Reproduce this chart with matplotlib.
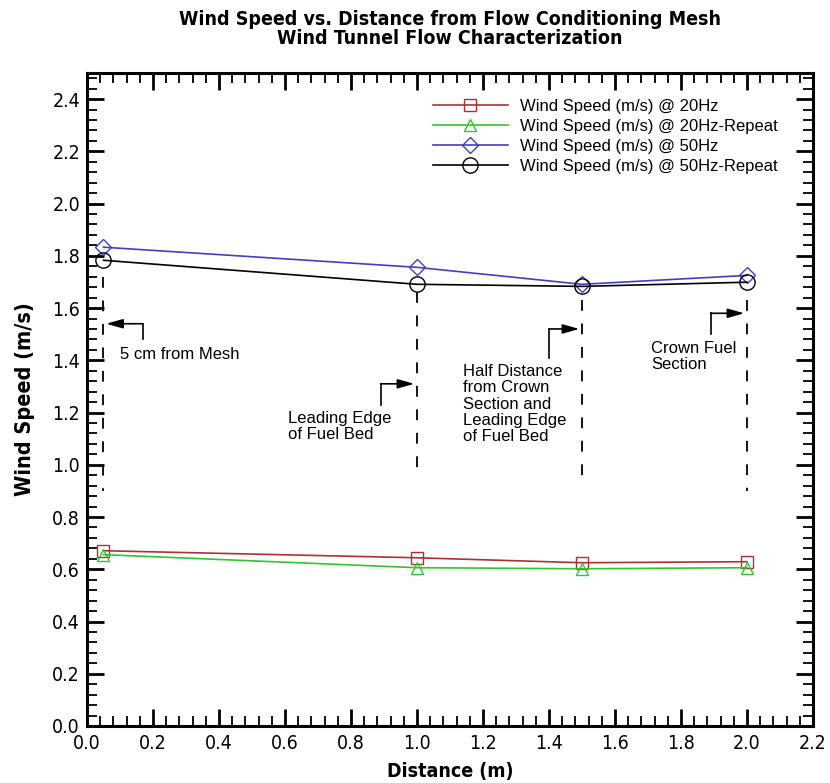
import matplotlib
matplotlib.use("Agg")
import matplotlib.pyplot as plt
from matplotlib.ticker import MultipleLocator, FormatStrFormatter
from matplotlib import font_manager

# ---------------- data ----------------
distance = [0.05, 1.0, 1.5, 2.0]
ws_20hz = [0.671, 0.644, 0.625, 0.629]
ws_20hz_rep = [0.656, 0.606, 0.602, 0.606]
ws_50hz = [1.833, 1.756, 1.691, 1.725]
ws_50hz_rep = [1.783, 1.691, 1.683, 1.699]

series_labels = ["Wind Speed (m/s) @ 20Hz", "Wind Speed (m/s) @ 20Hz-Repeat",
                 "Wind Speed (m/s) @ 50Hz", "Wind Speed (m/s) @ 50Hz-Repeat"]

# annotation marker lines (x, y_top, y_bottom)
ann_x = [0.05, 1.0, 1.5, 2.0]
ann_top = [1.72, 1.66, 1.63, 1.63]
ann_bottom = [0.90, 0.96, 0.92, 0.90]
ann_texts = ["5 cm from Mesh", "Leading Edge\nof Fuel Bed",
             "Half Distance\nfrom Crown\nSection and\nLeading Edge\nof Fuel Bed",
             "Crown Fuel\nSection"]

# ---------------- fonts ----------------
names = {f.name for f in font_manager.fontManager.ttflist}
regular = "Liberation Sans" if "Liberation Sans" in names else "DejaVu Sans"
plt.rcParams["font.family"] = ["DejaVu Sans"]
plt.rcParams["font.stretch"] = "condensed"

fig = plt.figure(figsize=(8.3, 7.83), dpi=100)
ax = fig.add_axes([0.1048, 0.0728, 0.8747, 0.834])

styles = [
    dict(color="#b03030", marker="s", ms=8),
    dict(color="#2ec82e", marker="^", ms=9),
    dict(color="#4040c0", marker="D", ms=8),
    dict(color="#000000", marker="o", ms=11),
]
for vals, st, lab in zip([ws_20hz, ws_20hz_rep, ws_50hz, ws_50hz_rep], styles, series_labels):
    ax.plot(distance, vals, color=st["color"], lw=1.2, marker=st["marker"],
            ms=st["ms"], mfc="none", mec=st["color"], mew=1.0, label=lab, zorder=3)

# dashed vertical marker lines
for x, yt, yb in zip(ann_x, ann_top, ann_bottom):
    ax.plot([x, x], [yt, yb], color="black", lw=1.3, ls=(0, (6, 7)), zorder=2)

ann_layout = [
    # text_x, text_y(top), elbow_x, elbow_bottom_y, arrow_y
    (0.10, 1.452, 0.17, 1.48, 1.54),
    (0.61, 1.207, 0.89, 1.23, 1.31),
    (1.14, 1.385, 1.40, 1.41, 1.52),
    (1.71, 1.475, 1.89, 1.50, 1.58),
]
for (tx, ty, ex, eb, ay), x, txt in zip(ann_layout, ann_x, ann_texts):
    ax.plot([ex, ex], [eb, ay], color="black", lw=1.2, zorder=2)
    tip = x + (0.008 if ex > x else -0.008)
    ax.annotate("", xy=(tip, ay), xytext=(ex, ay),
                arrowprops=dict(arrowstyle="-|>,head_length=1.0,head_width=0.28",
                                color="black", lw=1.2, shrinkA=0, shrinkB=0))
    ax.text(tx, ty, txt, fontsize=12, family=regular, fontstretch="normal",
            va="top", ha="left", linespacing=1.1)

ax.set_xlim(0, 2.2)
ax.set_ylim(0, 2.5)
ax.xaxis.set_major_locator(MultipleLocator(0.2))
ax.xaxis.set_minor_locator(MultipleLocator(0.04))
ax.yaxis.set_major_locator(MultipleLocator(0.2))
ax.yaxis.set_minor_locator(MultipleLocator(0.04))
ax.xaxis.set_major_formatter(FormatStrFormatter("%.1f"))
ax.yaxis.set_major_formatter(FormatStrFormatter("%.1f"))
ax.tick_params(which="both", direction="in", top=True, right=True)
ax.tick_params(which="major", length=12, width=2.0, labelsize=14)
ax.tick_params(axis="x", which="major", pad=6)
ax.tick_params(axis="y", which="major", pad=5)
ax.tick_params(which="minor", length=7, width=1.3)
for sp in ax.spines.values():
    sp.set_linewidth(2.2)

ax.set_xlabel("Distance (m)", fontsize=14, fontweight="bold", labelpad=6)
ax.set_ylabel("Wind Speed (m/s)", fontsize=15.5, fontweight="bold", labelpad=12)
ax.set_title("Wind Speed vs. Distance from Flow Conditioning Mesh\nWind Tunnel Flow Characterization",
             fontsize=14, fontweight="bold", pad=21, linespacing=1.0)

ax.legend(loc="upper left", bbox_to_anchor=(0.4766, 0.960), frameon=False,
          handlelength=4.5, handletextpad=0.7, labelspacing=0.3,
          borderpad=0, borderaxespad=0,
          prop={"family": regular, "size": 12, "stretch": "normal"})

fig.savefig("out.png", dpi=100)
